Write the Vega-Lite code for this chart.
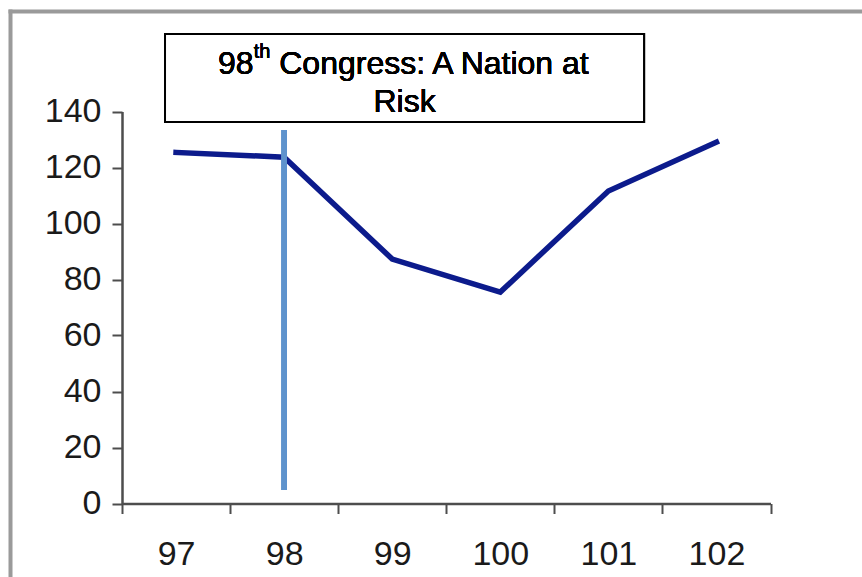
{
  "$schema": "https://vega.github.io/schema/vega-lite/v6.json",
  "width": 852,
  "height": 566,
  "autosize": "none",
  "padding": {"left": 10, "top": 11, "right": 0, "bottom": 0},
  "background": "white",
  "config": {"view": {"stroke": null}, "font": "Liberation Sans"},
  "data": {"values": [
    {"congress": "97", "value": 125.4},
    {"congress": "98", "value": 123.7},
    {"congress": "99", "value": 87.3},
    {"congress": "100", "value": 75.5},
    {"congress": "101", "value": 111.6},
    {"congress": "102", "value": 129.1}
  ]},
  "layer": [
    {
      "mark": {"type": "point", "opacity": 0},
      "encoding": {
        "x": {"field": "value", "type": "quantitative", "axis": {"orient": "top", "labels": false, "ticks": false, "grid": false, "title": null, "domainColor": "#9a9a9a", "domainWidth": 4, "domainCap": "square"}},
        "y": {"field": "value", "type": "quantitative", "axis": {"orient": "left", "labels": false, "ticks": false, "grid": false, "title": null, "domainColor": "#9a9a9a", "domainWidth": 4, "domainCap": "square"}}
      }
    },
    {
      "layer": [
        {
          "mark": {"type": "line", "color": "#0c1b8c", "strokeWidth": 5.5, "strokeCap": "square"},
          "encoding": {
            "x": {"field": "congress", "type": "ordinal", "sort": null,
              "scale": {"type": "band", "range": [112, 760.5], "paddingInner": 0, "paddingOuter": 0},
              "axis": {"orient": "bottom", "offset": -73.5, "tickBand": "extent", "tickSize": 10, "tickWidth": 2, "tickColor": "#4d4d4d", "domainColor": "#4d4d4d", "domainWidth": 2.5, "labelFontSize": 34, "labelColor": "#1a1a1a", "labelPadding": 24, "labelAngle": 0, "title": null, "grid": false}},
            "y": {"field": "value", "type": "quantitative",
              "scale": {"domain": [0, 140], "range": [492.5, 100.5], "nice": false, "zero": true},
              "axis": {"orient": "left", "offset": -112, "values": [0, 20, 40, 60, 80, 100, 120, 140], "tickSize": 10, "tickWidth": 2, "tickColor": "#4d4d4d", "domainColor": "#4d4d4d", "domainWidth": 2.5, "labelFontSize": 34, "labelColor": "#1a1a1a", "labelPadding": 11, "title": null, "grid": false}}
          }
        },
        {
          "mark": {"type": "rule", "color": "#5e93cd", "strokeWidth": 5},
          "encoding": {
            "x": {"datum": 98, "type": "quantitative", "scale": {"domain": [96.5, 102.5], "range": [112, 760.5], "nice": false, "zero": false}, "axis": null},
            "y": {"datum": 4.8, "type": "quantitative", "scale": {"domain": [0, 140], "range": [492.5, 100.5], "nice": false, "zero": true}},
            "y2": {"datum": 133.4}
          }
        },
        {
          "mark": {"type": "rect", "fill": "white", "stroke": "black", "strokeWidth": 2},
          "encoding": {
            "x": {"datum": 96.898, "type": "quantitative", "scale": {"domain": [96.5, 102.5], "range": [112, 760.5], "nice": false, "zero": false}, "axis": null},
            "x2": {"datum": 101.33},
            "y": {"datum": 136.25, "type": "quantitative", "scale": {"domain": [0, 140], "range": [492.5, 100.5], "nice": false, "zero": true}},
            "y2": {"datum": 167.7}
          }
        },
        {
          "mark": {"type": "text", "text": "98", "fontSize": 32, "fontWeight": "normal", "align": "left", "baseline": "alphabetic", "dx": -186.5, "color": "black"},
          "encoding": {
            "x": {"datum": 99.114, "type": "quantitative", "scale": {"domain": [96.5, 102.5], "range": [112, 760.5], "nice": false, "zero": false}, "axis": null},
            "y": {"datum": 153.4, "type": "quantitative", "scale": {"domain": [0, 140], "range": [492.5, 100.5], "nice": false, "zero": true}}
          }
        },
        {
          "mark": {"type": "text", "text": "th", "fontSize": 20, "fontWeight": "normal", "align": "left", "baseline": "alphabetic", "dx": -150.9, "color": "black"},
          "encoding": {
            "x": {"datum": 99.114, "type": "quantitative", "scale": {"domain": [96.5, 102.5], "range": [112, 760.5], "nice": false, "zero": false}, "axis": null},
            "y": {"datum": 159.1, "type": "quantitative", "scale": {"domain": [0, 140], "range": [492.5, 100.5], "nice": false, "zero": true}}
          }
        },
        {
          "mark": {"type": "text", "text": "Congress: A Nation at", "fontSize": 32, "fontWeight": "normal", "align": "left", "baseline": "alphabetic", "dx": -125.3, "color": "black"},
          "encoding": {
            "x": {"datum": 99.114, "type": "quantitative", "scale": {"domain": [96.5, 102.5], "range": [112, 760.5], "nice": false, "zero": false}, "axis": null},
            "y": {"datum": 153.4, "type": "quantitative", "scale": {"domain": [0, 140], "range": [492.5, 100.5], "nice": false, "zero": true}}
          }
        },
        {
          "mark": {"type": "text", "text": "Risk", "fontSize": 32, "fontWeight": "normal", "align": "center", "baseline": "alphabetic", "color": "black"},
          "encoding": {
            "x": {"datum": 99.114, "type": "quantitative", "scale": {"domain": [96.5, 102.5], "range": [112, 760.5], "nice": false, "zero": false}, "axis": null},
            "y": {"datum": 139.9, "type": "quantitative", "scale": {"domain": [0, 140], "range": [492.5, 100.5], "nice": false, "zero": true}}
          }
        }
      ],
      "resolve": {"scale": {"x": "independent"}, "axis": {"x": "independent"}}
    }
  ],
  "resolve": {"scale": {"x": "independent", "y": "independent"}, "axis": {"x": "independent", "y": "independent"}}
}
